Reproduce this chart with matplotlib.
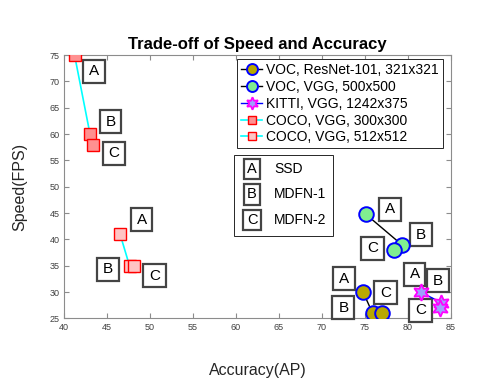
import matplotlib
matplotlib.use("Agg")
import matplotlib.pyplot as plt
from matplotlib.patches import Rectangle

plt.rcParams["font.family"] = ["Liberation Sans", "DejaVu Sans"]

# points are in order SSD, MDFN-1, MDFN-2
voc_res_x = [74.8, 75.9, 77.0]
voc_res_y = [30.0, 26.0, 26.0]
voc_vgg_x = [75.1, 79.3, 78.4]
voc_vgg_y = [44.8, 39.0, 38.0]
kitti_x = [81.5, 83.9, 83.8]
kitti_y = [30.0, 28.0, 27.0]
coco300_x = [41.2, 43.0, 43.4]
coco300_y = [75.0, 60.0, 58.0]
coco512_x = [46.5, 47.6, 48.1]
coco512_y = [41.0, 35.0, 35.0]

letters = ["A", "B", "C"]
methods = ["SSD", "MDFN-1", "MDFN-2"]

# where the letter boxes sit next to each group (data coords)
tag_pos = [
    [(72.55, 32.5), (72.5, 27.0), (77.4, 29.9)],   # VOC ResNet
    [(77.95, 45.7), (81.5, 40.9), (75.9, 38.3)],   # VOC VGG
    [(80.8, 33.35), (83.5, 32.15), (81.5, 26.55)], # KITTI
    [(43.5, 71.9), (45.4, 62.3), (45.8, 56.35)],   # COCO 300
    [(49.0, 43.7), (45.1, 34.35), (50.5, 33.1)],   # COCO 512
]

fig = plt.figure(figsize=(4.98, 3.85), dpi=100)
ax = fig.add_axes([0.129, 0.173, 0.776, 0.684])

ax.plot(voc_res_x, voc_res_y, "-o", color="black", lw=1, ms=10.5,
        mfc="#b8a800", mec="#0000ff", mew=1.4, label="VOC, ResNet-101, 321x321", zorder=6)
ax.plot(voc_vgg_x, voc_vgg_y, "-o", color="black", lw=1, ms=10.5,
        mfc="#80ee90", mec="#0000ff", mew=1.4, label="VOC, VGG, 500x500", zorder=6)
ax.plot(kitti_x, kitti_y, "-", color="#0000ff", lw=1, marker=(6, 1, 0), ms=12,
        mfc="#9f9fff", mec="#ff00ff", mew=1.3, label="KITTI, VGG, 1242x375", zorder=6)
ax.plot(coco300_x, coco300_y, "-s", color="#00ffff", lw=1.2, ms=8.5,
        mfc="#ff9090", mec="#ff0000", mew=1, label="COCO, VGG, 300x300", zorder=6)
ax.plot(coco512_x, coco512_y, "-s", color="#00ffff", lw=1.2, ms=8.5,
        mfc="#ffc4c4", mec="#ff0000", mew=1, label="COCO, VGG, 512x512", zorder=6)

box = dict(boxstyle="square,pad=0.38", fc="white", ec="#444444", lw=1.6,
           mutation_aspect=0.78)
for group in tag_pos:
    for (tx, ty), s in zip(group, letters):
        ax.text(tx, ty, s, fontsize=11, ha="center", va="center",
                bbox=box, clip_on=False, zorder=5)

ax.set_xlim(40, 85)
ax.set_ylim(25, 75)
ax.set_xticks(range(40, 86, 5))
ax.set_yticks(range(25, 76, 5))
ax.tick_params(direction="in", top=True, right=True, length=3.5,
               labelsize=6.5, color="#8c8c8c", labelcolor="#404040", width=0.8)
for sp in ax.spines.values():
    sp.set_color("#8c8c8c")
    sp.set_linewidth(0.8)

ax.set_title("Trade-off of Speed and Accuracy", fontsize=12, fontweight="bold", pad=4)
ax.set_xlabel("Accuracy(AP)", fontsize=11.5, color="#262626", labelpad=22)
ax.set_ylabel("Speed(FPS)", fontsize=11.5, color="#262626", labelpad=16)

leg = ax.legend(loc="upper right", bbox_to_anchor=(0.98, 0.985), fontsize=10,
                handlelength=1.5, handletextpad=0.3, labelspacing=0.2,
                borderpad=0.3, fancybox=False, framealpha=1, edgecolor="#262626",
                borderaxespad=0, markerscale=0.75)
leg.get_frame().set_linewidth(0.7)
leg.set_zorder(8)

# second legend: letter -> method
ax.add_patch(Rectangle((0.439, 0.3126), 0.256, 0.307, transform=ax.transAxes,
                       fc="white", ec="#262626", lw=0.7, zorder=7))
small = dict(boxstyle="square,pad=0.24", fc="white", ec="#444444", lw=1.6,
             mutation_aspect=0.9)
for s, m, ry in zip(letters, methods, [0.567, 0.471, 0.373]):
    ax.text(0.486, ry, s, transform=ax.transAxes, fontsize=10.5, ha="center",
            va="center", bbox=small, zorder=8)
    ax.text(0.5435, ry, m, transform=ax.transAxes, fontsize=10, ha="left",
            va="center", zorder=8)

fig.savefig("out.png", dpi=100)
